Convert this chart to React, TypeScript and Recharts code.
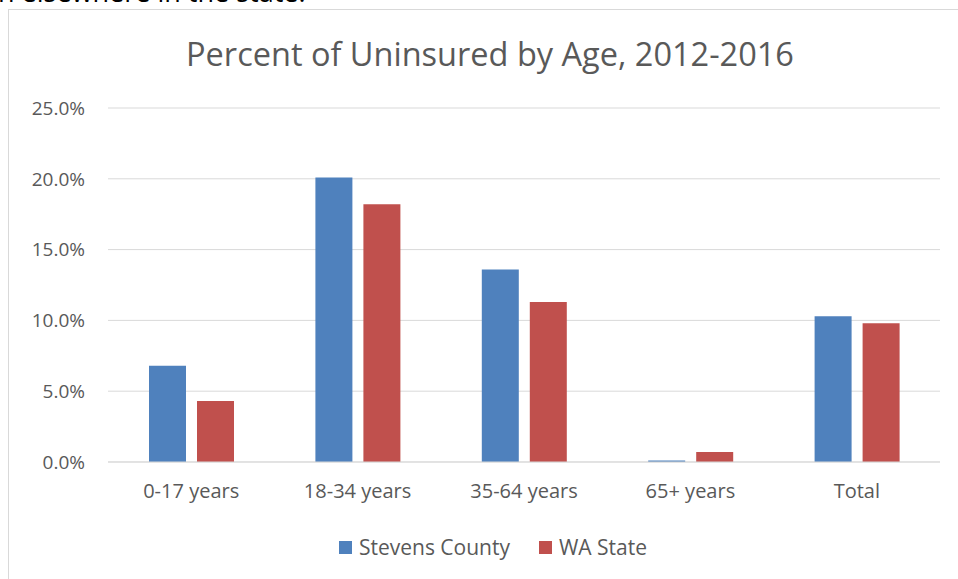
import React from "react";
import { BarChart, Bar, XAxis, YAxis, CartesianGrid, Legend } from "recharts";

const categories = ["0-17 years", "18-34 years", "35-64 years", "65+ years", "Total"];
const stevensCounty = [6.8, 20.1, 13.6, 0.1, 10.3];
const waState = [4.3, 18.2, 11.3, 0.7, 9.8];
const yTicks = [0, 5, 10, 15, 20, 25];

const data = categories.map((c, i) => ({ name: c, stevens: stevensCounty[i], wa: waState[i] }));

const FONT = "'Open Sans', 'Noto Sans', sans-serif";
const TEXT = "#595959";

const renderLegend = (props: any) => {
  const { payload } = props;
  return (
    <div style={{ display: "flex", justifyContent: "center", alignItems: "center", height: 30, fontFamily: FONT, fontSize: 21, color: TEXT }}>
      {payload.map((p: any, i: number) => (
        <div key={i} style={{ display: "flex", alignItems: "center", marginRight: i === 0 ? 29 : 0 }}>
          <span style={{ display: "inline-block", width: 13, height: 13, background: p.color, marginRight: 7 }} />
          <span>{p.value}</span>
        </div>
      ))}
    </div>
  );
};

export default function App() {
  return (
    <div style={{ position: "fixed", left: 0, top: 0, width: 958, height: 579, overflow: "hidden", background: "#fff" }}>
      <div style={{ position: "absolute", left: -2, top: -27, fontFamily: FONT, fontSize: 27, color: "#000", whiteSpace: "nowrap" }}>
        n elsewhere in the state.
      </div>
      <div style={{ position: "absolute", left: 8, top: 9, width: 1000, height: 620, border: "1px solid #d9d9d9", background: "#fff" }}>
        <div style={{ position: "absolute", left: 0, top: 21, width: 962, textAlign: "center", fontFamily: FONT, fontSize: 32.5, color: TEXT, whiteSpace: "nowrap" }}>
          Percent of Uninsured by Age, 2012-2016
        </div>
        <div style={{ position: "absolute", left: 0, top: 0 }}>
          <BarChart width={950} height={570} data={data} margin={{ top: 98, right: 19, left: 0, bottom: 58 }} barSize={37} barGap={11}>
            <CartesianGrid vertical={false} stroke="#d9d9d9" strokeWidth={1} />
            <XAxis
              dataKey="name"
              height={30}
              tickLine={false}
              axisLine={{ stroke: "#d9d9d9" }}
              tick={{ fill: TEXT, fontSize: 20, fontFamily: FONT }}
              tickMargin={16}
            />
            <YAxis
              width={99}
              domain={[0, 25]}
              ticks={yTicks}
              tickLine={false}
              axisLine={false}
              tickFormatter={(v: number) => v.toFixed(1) + "%"}
              tick={{ fill: TEXT, fontSize: 19, fontFamily: FONT }}
              tickMargin={17}
            />
            <Legend
              content={renderLegend}
              wrapperStyle={{ position: "absolute", top: 522, left: 9, width: 950, height: 30 }}
            />
            <Bar dataKey="stevens" name="Stevens County" fill="#4F81BD" isAnimationActive={false} />
            <Bar dataKey="wa" name="WA State" fill="#C0504D" isAnimationActive={false} />
          </BarChart>
        </div>
      </div>
    </div>
  );
}
